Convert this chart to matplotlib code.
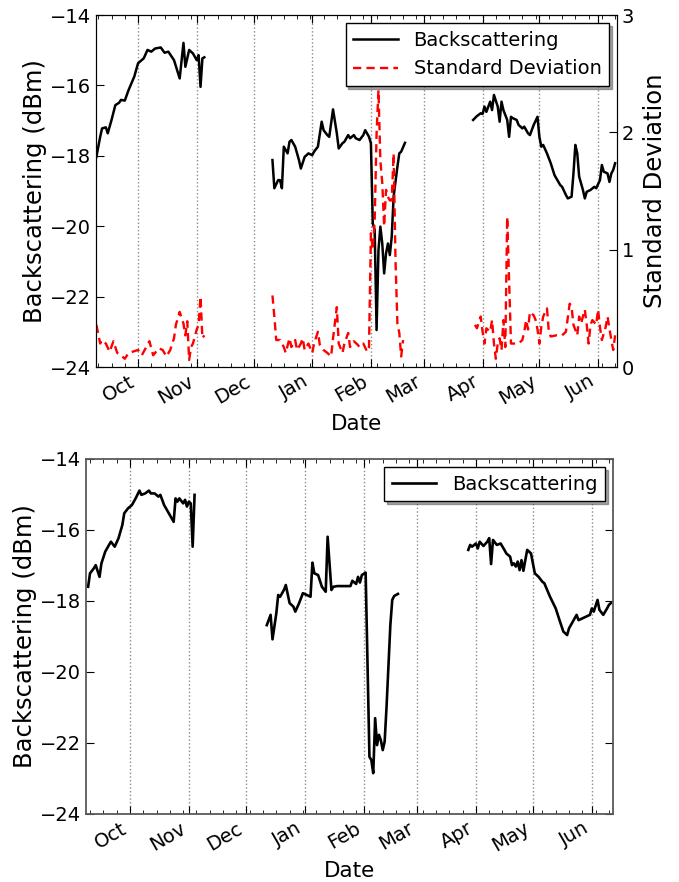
import numpy as np
import pandas as pd
import matplotlib
matplotlib.use("Agg")
import matplotlib.pyplot as plt
import matplotlib.dates as mdates

# ---------------------------------------
# Data (day offsets from 1 Oct 2010)
# ---------------------------------------
base = pd.Timestamp("2010-10-01")

# top panel: backscattering (dBm)
bs_top_day1 = [-22, -20, -19, -17, -16, -14, -12, -10, -9, -7, -5, -2, 0, 3, 5, 7, 9, 12, 14, 16,
               19, 22, 24, 25, 27, 29, 31, 32, 33, 34, 35]
bs_top_val1 = [-18.03, -17.46, -17.22, -17.19, -17.36, -16.98, -16.56, -16.49, -16.41, -16.43,
               -16.13, -15.75, -15.37, -15.23, -14.99, -15.04, -14.95, -14.92, -15.07, -15.04,
               -15.28, -15.80, -14.79, -15.47, -14.99, -15.09, -15.28, -15.14, -16.04, -15.23, -15.20]
bs_top_day2 = [71, 72, 74, 75, 76, 77, 79, 80, 81, 83, 85, 86, 88, 90, 92, 93, 95, 97, 98, 100,
               101, 103, 105, 106, 108, 109, 111, 112, 114, 115, 117, 119, 120, 122, 123, 124, 125,
               126, 127, 128, 129, 130, 131, 132, 133, 134, 135, 137, 138, 139, 141]
bs_top_val2 = [-18.12, -18.92, -18.69, -18.69, -18.92, -17.74, -17.93, -17.60, -17.55, -17.74,
               -18.12, -18.36, -18.03, -17.93, -17.98, -17.88, -17.74, -17.03, -17.27, -17.41,
               -17.46, -16.68, -17.36, -17.79, -17.64, -17.60, -17.41, -17.50, -17.41, -17.50,
               -17.55, -17.41, -17.27, -17.46, -17.64, -19.92, -20.11, -22.95, -20.68, -20.01,
               -20.49, -21.34, -20.77, -20.49, -20.82, -20.30, -19.16, -18.31, -17.93, -17.88, -17.63]
bs_top_day3 = [177, 179, 181, 182, 183, 184, 186, 187, 188, 190, 191, 192, 193, 195, 196, 197, 198,
               200, 201, 203, 204, 206, 207, 209, 211, 212, 213, 214, 216, 218, 220, 223, 224, 226,
               227, 229, 230, 231, 232, 233, 235, 236, 237, 239, 241, 242, 244, 245, 246, 248, 249,
               250, 251, 252]
bs_top_val3 = [-16.98, -16.87, -16.79, -16.81, -16.60, -16.75, -16.46, -16.70, -16.27, -16.60,
               -17.03, -16.46, -16.70, -16.98, -17.46, -16.89, -16.93, -16.98, -17.12, -17.22,
               -17.17, -17.36, -17.41, -17.12, -16.89, -17.46, -17.74, -17.69, -17.93, -18.21,
               -18.55, -18.83, -18.88, -19.11, -19.21, -19.16, -18.50, -17.69, -17.93, -18.59,
               -18.97, -19.21, -19.02, -18.97, -18.88, -18.92, -18.69, -18.26, -18.45, -18.50,
               -18.74, -18.50, -18.40, -18.21]

# top panel: standard deviation
sd_day1 = [-22, -20, -19, -17, -15, -13, -11, -9, -7, -5, -3, 0, 2, 5, 6, 8, 11, 13, 15, 17,
           19, 20, 22, 24, 25, 26, 27, 28, 29, 31, 32, 33, 34, 35]
sd_val1 = [0.36, 0.20, 0.23, 0.20, 0.13, 0.22, 0.12, 0.10, 0.07, 0.12, 0.13, 0.145, 0.10, 0.19,
           0.22, 0.10, 0.16, 0.145, 0.09, 0.145, 0.245, 0.36, 0.47, 0.37, 0.27, 0.39, 0.06, 0.17,
           0.20, 0.32, 0.36, 0.60, 0.245, 0.27]
sd_day2 = [71, 72, 73, 75, 77, 78, 80, 81, 83, 84, 86, 87, 88, 90, 92, 93, 95, 96, 98, 100,
           102, 103, 105, 106, 108, 109, 111, 112, 114, 116, 117, 119, 121, 122, 123, 124, 125,
           126, 127, 128, 129, 130, 131, 132, 133, 134, 135, 136, 137, 138, 139, 140]
sd_val2 = [0.61, 0.43, 0.23, 0.23, 0.17, 0.12, 0.245, 0.17, 0.23, 0.145, 0.20, 0.245, 0.145,
           0.20, 0.12, 0.20, 0.30, 0.19, 0.145, 0.12, 0.09, 0.245, 0.51, 0.20, 0.12, 0.20, 0.29,
           0.17, 0.22, 0.19, 0.17, 0.20, 0.13, 0.17, 1.14, 1.00, 1.25, 1.99, 2.36, 1.76, 1.57,
           1.20, 1.51, 1.45, 1.42, 1.42, 1.82, 0.91, 0.37, 0.29, 0.09, 0.23]
sd_day3 = [178, 179, 181, 182, 183, 184, 186, 187, 188, 189, 190, 191, 192, 193, 194, 195, 197,
           199, 201, 203, 204, 205, 206, 207, 209, 210, 211, 212, 213, 214, 216, 217, 218, 221,
           224, 226, 228, 229, 230, 232, 233, 234, 236, 237, 238, 239, 240, 242, 243, 244, 245,
           247, 248, 250, 251, 252]
sd_val3 = [0.36, 0.33, 0.43, 0.30, 0.20, 0.33, 0.30, 0.40, 0.20, 0.07, 0.20, 0.245, 0.145, 0.40,
           0.17, 1.28, 0.20, 0.20, 0.20, 0.23, 0.30, 0.40, 0.32, 0.47, 0.44, 0.40, 0.32, 0.20,
           0.34, 0.43, 0.50, 0.30, 0.26, 0.27, 0.27, 0.30, 0.54, 0.51, 0.36, 0.27, 0.43, 0.37,
           0.49, 0.36, 0.20, 0.36, 0.40, 0.36, 0.49, 0.34, 0.23, 0.34, 0.43, 0.23, 0.145, 0.27]

# bottom panel: backscattering (dBm)
bs_bot_day1 = [-22, -21, -19, -18, -16, -15, -13, -11, -10, -8, -6, -4, -3, -1, 1, 3, 5, 6, 8, 10,
               11, 13, 15, 16, 18, 21, 23, 24, 25, 26, 28, 29, 30, 31, 32, 33, 34]
bs_bot_val1 = [-17.60, -17.22, -17.08, -16.99, -17.32, -16.94, -16.61, -16.42, -16.33, -16.47,
               -16.23, -15.86, -15.53, -15.39, -15.30, -15.11, -14.89, -15.01, -14.97, -14.89,
               -14.97, -14.97, -15.06, -15.01, -15.30, -15.58, -15.77, -15.11, -15.20, -15.11,
               -15.25, -15.15, -15.34, -15.20, -15.25, -16.47, -15.01]
bs_bot_day2 = [72, 74, 75, 77, 78, 79, 81, 82, 84, 86, 87, 89, 91, 93, 95, 96, 97, 99, 101, 103,
               104, 106, 107, 109, 111, 114, 116, 117, 119, 120, 121, 122, 124, 126, 127, 128, 129,
               130, 131, 132, 133, 134, 135, 137, 138, 139, 141]
bs_bot_val2 = [-18.68, -18.39, -19.08, -18.35, -17.83, -17.88, -17.69, -17.55, -18.06, -18.16,
               -18.30, -18.06, -17.78, -17.83, -17.88, -16.92, -17.22, -17.27, -17.60, -17.74,
               -16.19, -17.69, -17.60, -17.58, -17.58, -17.58, -17.58, -17.43, -17.52, -17.32,
               -17.48, -17.27, -17.20, -22.39, -22.48, -22.85, -21.30, -22.06, -21.77, -21.92,
               -22.20, -21.96, -20.98, -18.68, -17.97, -17.86, -17.80]
bs_bot_day3 = [178, 179, 180, 182, 183, 184, 186, 188, 189, 190, 191, 193, 195, 197, 198, 200, 201,
               202, 203, 204, 205, 206, 207, 208, 209, 211, 213, 215, 217, 218, 221, 224, 226, 228,
               230, 231, 233, 235, 236, 238, 240, 242, 243, 244, 246, 247, 249, 251, 252, 253]
bs_bot_val3 = [-16.56, -16.42, -16.47, -16.38, -16.52, -16.33, -16.45, -16.33, -16.23, -16.96,
               -16.28, -16.42, -16.38, -16.56, -16.66, -16.75, -16.99, -16.94, -17.03, -16.89,
               -17.13, -16.85, -17.15, -16.85, -16.56, -16.66, -17.22, -17.32, -17.46, -17.50,
               -17.88, -18.21, -18.54, -18.86, -18.96, -18.77, -18.58, -18.39, -18.54, -18.49,
               -18.44, -18.39, -18.21, -18.30, -17.97, -18.25, -18.39, -18.21, -18.11, -18.06]


def to_dates(days):
    return base + pd.to_timedelta(days, unit="D")


plt.rcParams["font.family"] = "DejaVu Sans"
plt.rcParams["font.size"] = 14
plt.rcParams["xtick.direction"] = "in"
plt.rcParams["ytick.direction"] = "in"

fig = plt.figure(figsize=(6.79, 8.82), dpi=100)
ax1 = fig.add_axes([0.1414, 0.5839, 0.7673, 0.399])
ax3 = fig.add_axes([0.1267, 0.0771, 0.776, 0.4025])


def style_dates(ax, left, right):
    ax.set_xlim(base + pd.Timedelta(days=left), base + pd.Timedelta(days=right))
    ax.xaxis.set_major_locator(mdates.MonthLocator())
    ax.xaxis.set_major_formatter(mdates.DateFormatter("%b"))
    ax.xaxis.set_minor_locator(mdates.WeekdayLocator(byweekday=mdates.FR))
    ax.tick_params(axis="x", which="both", top=True, labelsize=14)
    ax.tick_params(axis="x", which="major", length=6)
    ax.tick_params(axis="x", which="minor", length=3)
    for lab in ax.get_xticklabels():
        lab.set_rotation(30)
        lab.set_ha("right")
    ax.grid(True, axis="x", which="major", linestyle=":", color="0.55", lw=1)
    ax.set_xlabel("Date", fontsize=15.5)


# ---------------------------------------
# Top panel
# ---------------------------------------
for d, v in [(bs_top_day1, bs_top_val1), (bs_top_day2, bs_top_val2), (bs_top_day3, bs_top_val3)]:
    l1, = ax1.plot(to_dates(d), v, color="black", lw=1.8)
ax1.set_ylim(-24, -14)
ax1.set_yticks(np.arange(-24, -13, 2))
ax1.tick_params(axis="y", labelsize=14, length=6)
ax1.set_ylabel("Backscattering (dBm)", fontsize=17.5, labelpad=2)
style_dates(ax1, -22.2, 253.0)

ax2 = ax1.twinx()
for d, v in [(sd_day1, sd_val1), (sd_day2, sd_val2), (sd_day3, sd_val3)]:
    l2, = ax2.plot(to_dates(d), v, color="red", lw=1.7, linestyle=(0, (3.5, 2.2)))
ax2.set_ylim(0, 3)
ax2.set_yticks([0, 1, 2, 3])
ax2.tick_params(axis="y", labelsize=14, length=6)
ax2.set_ylabel("Standard Deviation", fontsize=17.5, labelpad=6)
ax2.set_xlim(ax1.get_xlim())

leg = ax2.legend([l1, l2], ["Backscattering", "Standard Deviation"], loc="upper right",
                 fancybox=False, shadow=True, fontsize=14, framealpha=1,
                 edgecolor="black", borderaxespad=0.4, handlelength=2.3)
leg.get_frame().set_linewidth(1.0)

# ---------------------------------------
# Bottom panel
# ---------------------------------------
for d, v in [(bs_bot_day1, bs_bot_val1), (bs_bot_day2, bs_bot_val2), (bs_bot_day3, bs_bot_val3)]:
    l3, = ax3.plot(to_dates(d), v, color="black", lw=1.9)
ax3.set_ylim(-24, -14)
ax3.set_yticks(np.arange(-24, -13, 2))
ax3.tick_params(axis="y", which="both", right=True, labelsize=14, length=6)
ax3.set_ylabel("Backscattering (dBm)", fontsize=17.5, labelpad=2)
style_dates(ax3, -23.1, 254.1)
for s in ax3.spines.values():
    s.set_color("0.35")
    s.set_linewidth(1.3)

leg3 = ax3.legend([l3], ["Backscattering"], loc="upper right", fancybox=False, shadow=True,
                  fontsize=14, framealpha=1, edgecolor="black", borderaxespad=0.4,
                  handlelength=2.3)
leg3.get_frame().set_linewidth(1.0)

fig.savefig("out.png", dpi=100)
